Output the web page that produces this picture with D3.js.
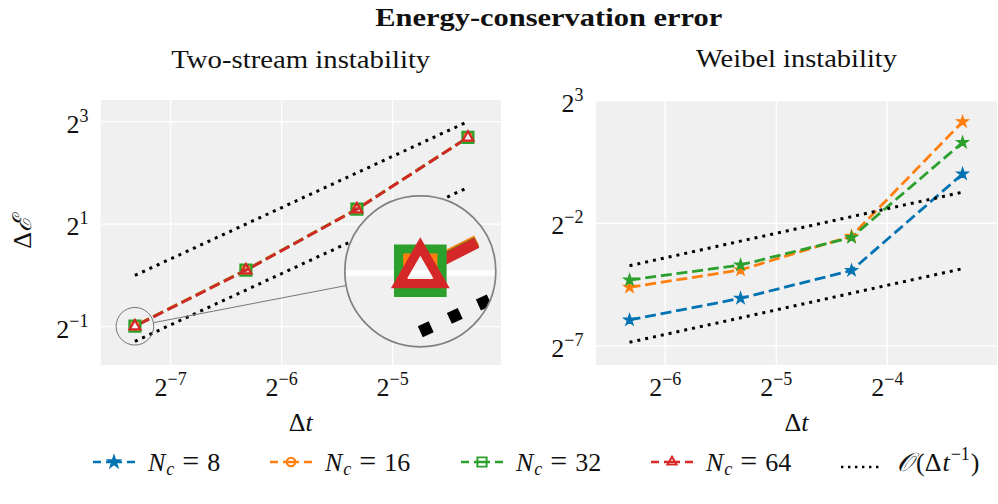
<!DOCTYPE html>
<html><head><meta charset="utf-8">
<script src="https://cdn.jsdelivr.net/npm/d3@7"></script>
<style>
body{margin:0;background:#fff}
svg{display:block}
text{font-family:"Liberation Serif","Times New Roman",serif;fill:#111}
</style>
</head><body>
<svg id="chart" width="998" height="504"></svg>
<script>
// ---------------- data ----------------
const dtTwoStream = [0.00625, 0.0125, 0.025, 0.05];
const twoNc16 = [0.507, 1.079, 2.457, 6.47];
const twoNc32 = [0.504, 1.074, 2.448, 6.455];
const twoNc64 = [0.503, 1.071, 2.444, 6.45];
const twoRefHigh = [1.0, 2.0, 4.0, 8.0];
const twoRefLow  = [0.41, 0.82, 1.64, 3.28];

const dtWeibel = [0.0125, 0.025, 0.05, 0.1];
const weiNc8  = [0.0163, 0.0300, 0.066, 1.01];
const weiNc16 = [0.0410, 0.0670, 0.174, 4.41];
const weiNc32 = [0.0504, 0.0770, 0.168, 2.45];
const weiRefHigh = [0.0754, 0.151, 0.302, 0.603];
const weiRefLow  = [0.00867, 0.0173, 0.0347, 0.0694];

const twoXTickExp = [-7, -6, -5];
const twoYTickExp = [-1, 1, 3];
const weiXTickExp = [-6, -5, -4];
const weiYTickExp = [-7, -2, 3];

const ncLabels = ["8", "16", "32", "64"];
const colors = ["#0173b2", "#ff7f0e", "#2ca02c", "#d62728"];
const legMarkers = ["star", "circle", "square", "triangle"];

// ---------------- layout ----------------
const svg = d3.select("#chart");
const P1 = {x0: 100.5, x1: 501, y0: 100, y1: 365};
const P2 = {x0: 596, x1: 997, y0: 100, y1: 365};
const BG = "#f0f0f0";

const x1s = d3.scaleLog().base(2).domain([Math.pow(2,-7.632), Math.pow(2,-4.024)]).range([P1.x0, P1.x1]);
const y1s = d3.scaleLog().base(2).domain([Math.pow(2,-1.747), Math.pow(2,3.42)]).range([P1.y1, P1.y0]);
const x2s = d3.scaleLog().base(2).domain([Math.pow(2,-6.624), Math.pow(2,-3.012)]).range([P2.x0, P2.x1]);
const y2s = d3.scaleLog().base(2).domain([Math.pow(2,-7.776), Math.pow(2,3.027)]).range([P2.y1, P2.y0]);

const symTypes = {star: d3.symbolStar, circle: d3.symbolCircle, square: d3.symbolSquare, triangle: d3.symbolTriangle};
const symSizes = {star: 42, circle: 80, square: 118, triangle: 50};

function drawMarker(g, type, color, cx, cy, scale) {
  const s = scale || 1;
  const p = g.append("path")
    .attr("d", d3.symbol().type(symTypes[type]).size(symSizes[type] * s * s)())
    .attr("transform", `translate(${cx},${cy})`);
  if (type === "star") p.attr("fill", color).attr("stroke", color).attr("stroke-width", 1.2 * s);
  else p.attr("fill", "none").attr("stroke", color).attr("stroke-width", 2.3 * s);
  return p;
}

function drawContent(g, P, xs, ys, xTickExp, yTickExp, series, refs, dashOffset) {
  g.append("rect").attr("x", P.x0).attr("y", P.y0).attr("width", P.x1 - P.x0).attr("height", P.y1 - P.y0).attr("fill", BG);
  xTickExp.forEach(e => g.append("line").attr("x1", xs(Math.pow(2,e))).attr("x2", xs(Math.pow(2,e)))
    .attr("y1", P.y0).attr("y2", P.y1).attr("stroke", "#fff").attr("stroke-width", 1.3));
  yTickExp.forEach(e => g.append("line").attr("y1", ys(Math.pow(2,e))).attr("y2", ys(Math.pow(2,e)))
    .attr("x1", P.x0).attr("x2", P.x1).attr("stroke", "#fff").attr("stroke-width", 1.3));
  const line = d3.line().x(d => xs(d[0])).y(d => ys(d[1]));
  series.forEach(s => {
    g.append("path").attr("d", line(s.dt.map((t,i) => [t, s.v[i]])))
      .attr("fill", "none").attr("stroke", s.color).attr("stroke-width", 2.8)
      .attr("stroke-dasharray", "11,4.8").attr("stroke-dashoffset", dashOffset);
  });
  refs.forEach(r => {
    g.append("path").attr("d", line(r.dt.map((t,i) => [t, r.v[i]])))
      .attr("fill", "none").attr("stroke", "#000").attr("stroke-width", 3)
      .attr("stroke-dasharray", "3,5");
  });
  series.forEach(s => {
    s.dt.forEach((t,i) => drawMarker(g, s.marker, s.color, xs(t), ys(s.v[i])));
  });
}

function powLabel(t, e) {
  t.append("tspan").text("2");
  t.append("tspan").attr("dy", -11).attr("font-size", 18).text(e < 0 ? "\u2212" + (-e) : String(e));
}

function drawAxes(P, xs, ys, xTickExp, yTickExp, yLabelX) {
  xTickExp.forEach(e => {
    const t = svg.append("text").attr("x", xs(Math.pow(2,e))).attr("y", 396)
      .attr("text-anchor", "middle").attr("font-size", 26);
    powLabel(t, e);
  });
  yTickExp.forEach(e => {
    const t = svg.append("text").attr("x", yLabelX).attr("y", ys(Math.pow(2,e)) + 11)
      .attr("text-anchor", "end").attr("font-size", 26);
    powLabel(t, e);
  });
  const xl = svg.append("text").attr("x", (P.x0 + P.x1) / 2).attr("y", 431)
    .attr("text-anchor", "middle").attr("font-size", 26);
  xl.append("tspan").text("\u0394");
  xl.append("tspan").attr("font-style", "italic").text("t");
}

const twoSeries = [twoNc16, twoNc32, twoNc64].map((v, i) => ({dt: dtTwoStream, v: v, color: colors[i + 1], marker: legMarkers[i + 1]}));
const twoRefs = [{dt: dtTwoStream, v: twoRefHigh}, {dt: dtTwoStream, v: twoRefLow}];
const weiSeries = [weiNc8, weiNc16, weiNc32].map((v, i) => ({dt: dtWeibel, v: v, color: colors[i], marker: "star"}));
const weiRefs = [{dt: dtWeibel, v: weiRefHigh}, {dt: dtWeibel, v: weiRefLow}];

const defs = svg.append("defs");
defs.append("clipPath").attr("id", "clip1").append("rect").attr("x", P1.x0).attr("y", P1.y0).attr("width", P1.x1 - P1.x0).attr("height", P1.y1 - P1.y0);
defs.append("clipPath").attr("id", "clip2").append("rect").attr("x", P2.x0).attr("y", P2.y0).attr("width", P2.x1 - P2.x0).attr("height", P2.y1 - P2.y0);

const g1 = svg.append("g").attr("clip-path", "url(#clip1)");
drawContent(g1, P1, x1s, y1s, twoXTickExp, twoYTickExp, twoSeries, twoRefs, 11);
const g2 = svg.append("g").attr("clip-path", "url(#clip2)");
drawContent(g2, P2, x2s, y2s, weiXTickExp, weiYTickExp, weiSeries, weiRefs, 0);

drawAxes(P1, x1s, y1s, twoXTickExp, twoYTickExp, 88.5);
drawAxes(P2, x2s, y2s, weiXTickExp, weiYTickExp, 583.5);

// zoomed inset (x4) around the first two-stream point
const zoomF = 4, insetC = [420.3, 271.3], insetR = 75.5, smallR = 18.8;
const fx = x1s(dtTwoStream[0]), fy = y1s(twoNc64[0]);
defs.append("clipPath").attr("id", "clipInset").append("circle").attr("cx", insetC[0]).attr("cy", insetC[1]).attr("r", insetR);
const ux = insetC[0] - fx, uy = insetC[1] - fy, ul = Math.hypot(ux, uy);
svg.append("line")
  .attr("x1", fx + ux / ul * smallR).attr("y1", fy + uy / ul * smallR)
  .attr("x2", insetC[0] - ux / ul * insetR).attr("y2", insetC[1] - uy / ul * insetR)
  .attr("stroke", "#777").attr("stroke-width", 1);
svg.append("circle").attr("cx", fx).attr("cy", fy).attr("r", smallR)
  .attr("fill", "none").attr("stroke", "#666").attr("stroke-width", 0.9);
const gi = svg.append("g").attr("clip-path", "url(#clipInset)");
gi.append("circle").attr("cx", insetC[0]).attr("cy", insetC[1]).attr("r", insetR).attr("fill", BG);
const gz = gi.append("g").attr("transform", `translate(${insetC[0]},${insetC[1]}) scale(${zoomF}) translate(${-fx},${-fy})`);
drawContent(gz, P1, x1s, y1s, twoXTickExp, twoYTickExp, twoSeries, twoRefs, 11);
svg.append("circle").attr("cx", insetC[0]).attr("cy", insetC[1]).attr("r", insetR)
  .attr("fill", "none").attr("stroke", "#808080").attr("stroke-width", 1.7);

// y label left
const yl = svg.append("text").attr("transform", "translate(31,232.5) rotate(-90)")
  .attr("text-anchor", "middle").attr("font-size", 26);
yl.append("tspan").text("\u0394");
yl.append("tspan").attr("font-family", "DejaVu Serif").attr("font-style", "italic").text("\u2130");

// titles
svg.append("text").attr("x", 548.7).attr("y", 26).attr("text-anchor", "middle")
  .attr("font-size", 26).attr("font-weight", "bold").attr("textLength", 347).attr("lengthAdjust", "spacingAndGlyphs")
  .text("Energy-conservation error");
svg.append("text").attr("x", (P1.x0 + P1.x1) / 2).attr("y", 67.5).attr("text-anchor", "middle")
  .attr("font-size", 26).attr("textLength", 259).attr("lengthAdjust", "spacingAndGlyphs").text("Two-stream instability");
svg.append("text").attr("x", (P2.x0 + P2.x1) / 2).attr("y", 67).attr("text-anchor", "middle")
  .attr("font-size", 26).attr("textLength", 201).attr("lengthAdjust", "spacingAndGlyphs").text("Weibel instability");

// legend
const legX = [93, 270, 461, 651, 841];
const legY = 462;
legMarkers.forEach((m, i) => {
  const x0 = legX[i];
  const lg = svg.append("g");
  lg.append("line").attr("x1", x0).attr("x2", x0 + 42).attr("y1", legY).attr("y2", legY)
    .attr("stroke", colors[i]).attr("stroke-width", 2.6).attr("stroke-dasharray", "8,5,16,5,8");
  drawMarker(lg, m, colors[i], x0 + 21, legY, m === "star" ? 1.1 : 0.85);
  const t = lg.append("text").attr("x", x0 + 55).attr("y", legY + 9).attr("font-size", 26);
  t.append("tspan").attr("font-style", "italic").text("N");
  t.append("tspan").attr("font-style", "italic").attr("font-size", 18).attr("dy", 4).attr("dx", 1).text("c");
  t.append("tspan").attr("dy", -4).attr("dx", 8).attr("font-size", 30).text("=");
  t.append("tspan").attr("dx", 8).text(ncLabels[i]);
});
{
  const x0 = legX[4];
  svg.append("line").attr("x1", x0).attr("x2", x0 + 42).attr("y1", legY + 5).attr("y2", legY + 5)
    .attr("stroke", "#000").attr("stroke-width", 2.4).attr("stroke-dasharray", "2.4,4.6");
  const t = svg.append("text").attr("x", x0 + 56).attr("y", legY + 9).attr("font-size", 26);
  t.append("tspan").attr("font-family", "DejaVu Serif").attr("font-style", "italic").text("\uD835\uDCAA");
  t.append("tspan").attr("dx", 3).text("(\u0394");
  t.append("tspan").attr("font-style", "italic").attr("dx", 1).text("t");
  t.append("tspan").attr("dy", -11).attr("dx", 1).attr("font-size", 18).text("\u22121");
  t.append("tspan").attr("dy", 11).attr("dx", 1).text(")");
}
</script>
</body></html>
